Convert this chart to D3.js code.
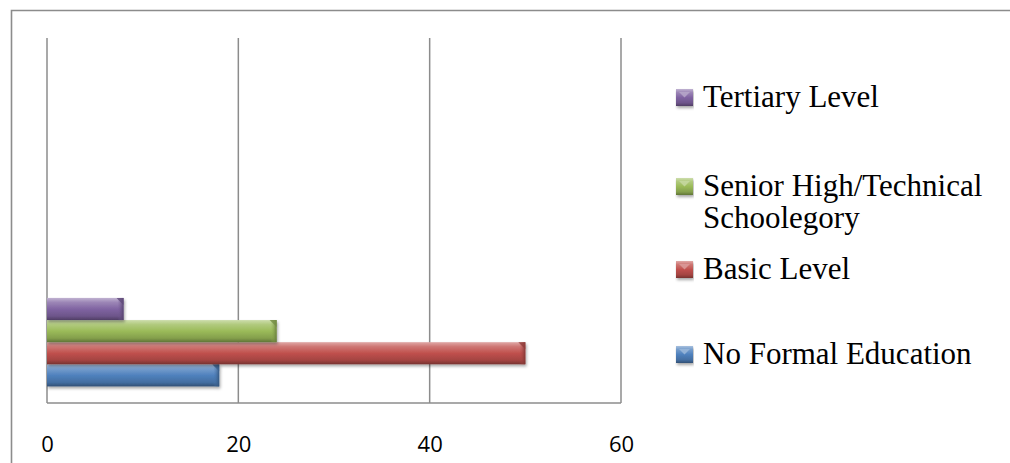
<!DOCTYPE html>
<html>
<head>
<meta charset="utf-8">
<script src="https://cdn.jsdelivr.net/npm/d3@7"></script>
<style>
  html, body { margin: 0; padding: 0; background: #fff; }
  svg { display: block; }
</style>
</head>
<body>
<svg id="chart" width="1010" height="463"></svg>
<script>
// Education level of respondents (%)
const levels = ["No Formal Education", "Basic Level", "Senior High/Technical Schoolegory", "Tertiary Level"];
const percentages = [18, 50, 24, 8];
const legendLines = [["No Formal Education"], ["Basic Level"], ["Senior High/Technical", "Schoolegory"], ["Tertiary Level"]];
const colors = ["#4F81BD", "#C0504D", "#9BBB59", "#8064A2"];
// the value axis ticks
const xTicks = [0, 20, 40, 60];
// category slots on the vertical axis; only the first one carries data
const categories = ["Respondents", "slot 2", "slot 3"];

const svg = d3.select("#chart");
const W = 1010, H = 463;
const plot = { left: 47, right: 621, top: 38, bottom: 403 };

// outer chart frame (continues past the right and bottom edges)
svg.append("path")
  .attr("d", `M11.5,${H + 2} L11.5,10.5 L${W + 2},10.5`)
  .attr("fill", "none").attr("stroke", "#8c8c8c").attr("stroke-width", 1.6);

const x = d3.scaleLinear().domain([0, 60]).range([plot.left, plot.right]);
const y = d3.scaleBand().domain(categories).range([plot.bottom, plot.top]).paddingInner(0).paddingOuter(0);
const y1 = d3.scaleBand().domain(levels).range([y.bandwidth(), 0]).paddingInner(0).paddingOuter(0.75);

const defs = svg.append("defs");
function shade(c, k) { return d3.interpolateRgb(c, k > 0 ? "#fff" : "#000")(Math.abs(k)); }
colors.forEach((c, i) => {
  const g = defs.append("linearGradient").attr("id", "grad" + i)
    .attr("x1", 0).attr("y1", 0).attr("x2", 0).attr("y2", 1);
  g.append("stop").attr("offset", 0).attr("stop-color", shade(c, 0.5));
  g.append("stop").attr("offset", 0.2).attr("stop-color", shade(c, 0.22));
  g.append("stop").attr("offset", 0.5).attr("stop-color", c);
  g.append("stop").attr("offset", 0.82).attr("stop-color", shade(c, -0.15));
  g.append("stop").attr("offset", 1).attr("stop-color", shade(c, -0.38));
  const e = defs.append("linearGradient").attr("id", "end" + i)
    .attr("x1", 0).attr("y1", 0).attr("x2", 1).attr("y2", 0);
  e.append("stop").attr("offset", 0).attr("stop-color", shade(c, -0.05)).attr("stop-opacity", 0);
  e.append("stop").attr("offset", 1).attr("stop-color", shade(c, -0.35)).attr("stop-opacity", 0.9);
});
const f = defs.append("filter").attr("id", "shadow").attr("x", "-5%").attr("y", "-30%").attr("width", "110%").attr("height", "170%");
f.append("feDropShadow").attr("dx", 1).attr("dy", 2).attr("stdDeviation", 1.5).attr("flood-color", "#000").attr("flood-opacity", 0.35);

// vertical gridlines
svg.append("g").selectAll("line").data(xTicks).join("line")
  .attr("x1", d => x(d)).attr("x2", d => x(d))
  .attr("y1", plot.top).attr("y2", plot.bottom)
  .attr("stroke", "#8c8c8c").attr("stroke-width", 1.5);

// horizontal axis line and tick labels
svg.append("line")
  .attr("x1", plot.left).attr("x2", plot.right)
  .attr("y1", plot.bottom).attr("y2", plot.bottom)
  .attr("stroke", "#8c8c8c").attr("stroke-width", 1.5);
const xAxis = d3.axisBottom(x).tickValues(xTicks).tickSize(0).tickPadding(0);
const ax = svg.append("g").attr("transform", `translate(0,${plot.bottom})`).call(xAxis);
ax.select(".domain").remove();
ax.selectAll("text")
  .attr("y", 49).attr("dy", 0)
  .style("font-family", "'Open Sans', 'Liberation Sans', sans-serif")
  .style("font-size", "22px").attr("fill", "#000");

// bars
const group = svg.append("g").attr("transform", `translate(0,${y(categories[0])})`);
levels.forEach((lv, i) => {
  const bh = y1.bandwidth();
  const by = y1(lv);
  const x0 = x(0), x1 = x(percentages[i]);
  const g = group.append("g").attr("filter", "url(#shadow)");
  g.append("rect").attr("x", x0).attr("y", by).attr("width", x1 - x0).attr("height", bh)
    .attr("fill", `url(#grad${i})`);
  g.append("rect").attr("x", x1 - 6).attr("y", by).attr("width", 6).attr("height", bh)
    .attr("fill", `url(#end${i})`);
  // bevelled corner at the bar end
  g.append("path")
    .attr("d", `M${x1 - 7},${by} L${x1},${by} L${x1},${by + 7} Z`)
    .attr("fill", shade(colors[i], -0.25)).attr("opacity", 0.8);
});

// legend
const keyX = 676, keySize = 17, textX = 703, lineStep = 32;
const legendRows = [
  { i: 3, base: 107 },
  { i: 2, base: 196 },
  { i: 1, base: 279 },
  { i: 0, base: 364 }
];
const lg = svg.append("g");
legendRows.forEach(r => {
  const c = colors[r.i];
  const ky = r.base - keySize - 1;
  const kg = lg.append("g").attr("filter", "url(#shadow)");
  kg.append("rect").attr("x", keyX).attr("y", ky).attr("width", keySize).attr("height", keySize)
    .attr("fill", `url(#grad${r.i})`);
  // small bevel highlight on the key
  kg.append("path")
    .attr("d", `M${keyX + 3},${ky + 3} L${keyX + keySize - 3},${ky + 3} L${keyX + keySize / 2},${ky + keySize / 2} Z`)
    .attr("fill", shade(c, 0.45)).attr("opacity", 0.8);
  // each legend line is its own text element
  legendLines[r.i].forEach((ln, k) => {
    lg.append("text")
      .attr("x", textX).attr("y", r.base + k * lineStep)
      .style("font-family", "'Liberation Serif', 'Times New Roman', serif")
      .style("font-size", "31px").attr("fill", "#000")
      .text(ln);
  });
});
</script>
</body>
</html>
